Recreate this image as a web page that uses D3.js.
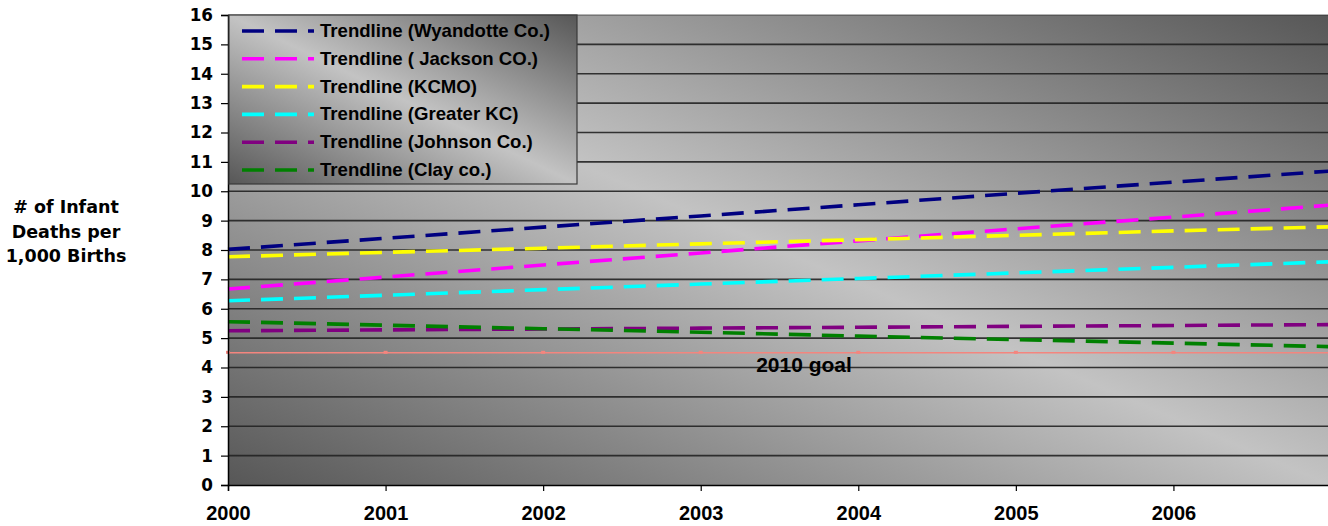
<!DOCTYPE html>
<html>
<head>
<meta charset="utf-8">
<script src="https://cdn.jsdelivr.net/npm/d3@7/dist/d3.min.js"></script>
<style>
  html, body { margin: 0; padding: 0; background: #ffffff; }
  svg { display: block; }
</style>
</head>
<body>
<svg id="chart" width="1328" height="526"></svg>
<script>
// ---- Data ----
const years = [2000, 2001, 2002, 2003, 2004, 2005, 2006, 2007];
const xTickLabels = [2000, 2001, 2002, 2003, 2004, 2005, 2006];
const yTickLabels = [0, 1, 2, 3, 4, 5, 6, 7, 8, 9, 10, 11, 12, 13, 14, 15, 16];

const seriesNames = [
  "Trendline (Wyandotte Co.)",
  "Trendline ( Jackson CO.)",
  "Trendline (KCMO)",
  "Trendline (Greater KC)",
  "Trendline (Johnson Co.)",
  "Trendline (Clay co.)"
];
const seriesColors = ["#000080", "#ff00ff", "#ffff00", "#00ffff", "#800080", "#008000"];

const wyandotte = [8.02, 8.40, 8.78, 9.16, 9.54, 9.93, 10.31, 10.69];
const jackson   = [6.67, 7.08, 7.49, 7.90, 8.31, 8.72, 9.12, 9.53];
const kcmo      = [7.77, 7.92, 8.06, 8.21, 8.35, 8.50, 8.65, 8.79];
const greaterKC = [6.27, 6.46, 6.65, 6.84, 7.03, 7.22, 7.41, 7.60];
const johnson   = [5.25, 5.28, 5.31, 5.34, 5.37, 5.40, 5.43, 5.46];
const clay      = [5.56, 5.44, 5.32, 5.20, 5.07, 4.95, 4.83, 4.71];
const goal2010  = [4.5, 4.5, 4.5, 4.5, 4.5, 4.5, 4.5, 4.5];
const goalLabel = "2010 goal";
const yAxisTitle = ["# of Infant", "Deaths per", "1,000 Births"];

const allSeries = [wyandotte, jackson, kcmo, greaterKC, johnson, clay];

// ---- Layout ----
const svg = d3.select("#chart");
const plot = { left: 228, top: 15, right: 1331, bottom: 485 };

const x = d3.scaleLinear().domain([2000, 2007]).range([plot.left, plot.right]);
const y = d3.scaleLinear().domain([0, 16]).range([plot.bottom, plot.top]);

const defs = svg.append("defs");
function diagGrad(id) {
  const g = defs.append("linearGradient").attr("id", id)
    .attr("x1", 0).attr("y1", 1).attr("x2", 1).attr("y2", 0);
  g.append("stop").attr("offset", "0%").attr("stop-color", "#575757");
  g.append("stop").attr("offset", "50%").attr("stop-color", "#c3c3c3");
  g.append("stop").attr("offset", "100%").attr("stop-color", "#575757");
}
diagGrad("plotGrad");
diagGrad("legGrad");

// plot background
svg.append("rect")
  .attr("x", plot.left).attr("y", plot.top)
  .attr("width", plot.right - plot.left).attr("height", plot.bottom - plot.top)
  .attr("fill", "url(#plotGrad)");

// gridlines
svg.append("g").selectAll("line")
  .data(yTickLabels.filter(d => d > 0))
  .join("line")
  .attr("x1", plot.left).attr("x2", plot.right)
  .attr("y1", d => y(d)).attr("y2", d => y(d))
  .attr("stroke", "#222").attr("stroke-width", 1.7)
  .attr("stroke-opacity", d => d === 16 ? 0.45 : 0.9);

// goal line
const lineGen = d3.line().x((d, i) => x(years[i])).y(d => y(d));
svg.append("path").datum(goal2010)
  .attr("d", lineGen)
  .attr("fill", "none").attr("stroke", "#f4857e").attr("stroke-width", 1.6);
svg.append("g").selectAll("rect")
  .data(goal2010.slice(0, 7))
  .join("rect")
  .attr("x", (d, i) => x(years[i]) - 2).attr("y", d => y(d) - 2)
  .attr("width", 4).attr("height", 3)
  .attr("fill", "#f4857e");

// trendlines
svg.append("g").selectAll("path")
  .data(allSeries)
  .join("path")
  .attr("d", lineGen)
  .attr("fill", "none")
  .attr("stroke", (d, i) => seriesColors[i])
  .attr("stroke-width", 3.6)
  .attr("stroke-dasharray", "22,11");

// goal label
svg.append("text")
  .attr("x", 804).attr("y", 372)
  .attr("text-anchor", "middle")
  .attr("font-family", "Liberation Sans, Arial, sans-serif")
  .attr("font-weight", "bold").attr("font-size", 21)
  .attr("fill", "#000")
  .text(goalLabel);

// axes
const yAxis = d3.axisLeft(y).tickValues(yTickLabels).tickSize(7).tickPadding(8).tickFormat(d3.format("d"));
const gy = svg.append("g").attr("transform", `translate(${plot.left},0)`).call(yAxis);
gy.select(".domain").attr("stroke", "#000").attr("stroke-width", 1.5);
gy.selectAll(".tick line").attr("stroke", "#000").attr("stroke-width", 1.2);
gy.selectAll(".tick text")
  .attr("font-family", "DejaVu Sans, sans-serif")
  .attr("font-weight", "bold").attr("font-size", 16.8).attr("fill", "#000");

const xAxis = d3.axisBottom(x).tickValues(xTickLabels).tickSize(6).tickPadding(15).tickFormat(d3.format("d"));
const gx = svg.append("g").attr("transform", `translate(0,${plot.bottom})`).call(xAxis);
gx.select(".domain").attr("stroke", "#000").attr("stroke-width", 1.5);
gx.selectAll(".tick line").attr("stroke", "#000").attr("stroke-width", 1.2);
gx.selectAll(".tick text")
  .attr("font-family", "Liberation Sans, Arial, sans-serif")
  .attr("font-weight", "bold").attr("font-size", 20).attr("fill", "#000");

// y-axis title
svg.append("g").selectAll("text")
  .data(yAxisTitle)
  .join("text")
  .attr("x", 66).attr("y", (d, i) => 213 + i * 24.6)
  .attr("text-anchor", "middle")
  .attr("font-family", "DejaVu Sans, sans-serif")
  .attr("font-weight", "bold").attr("font-size", 17.5)
  .attr("fill", "#000")
  .text(d => d);

// legend
const leg = svg.append("g");
leg.append("rect")
  .attr("x", 229).attr("y", 15).attr("width", 348).attr("height", 169)
  .attr("fill", "url(#legGrad)")
  .attr("stroke", "#3a3a3a").attr("stroke-width", 1.2);
const rows = leg.selectAll("g.row")
  .data(seriesNames)
  .join("g").attr("class", "row")
  .attr("transform", (d, i) => `translate(0,${31 + i * 27.8})`);
rows.append("line")
  .attr("x1", 242).attr("x2", 314).attr("y1", 0).attr("y2", 0)
  .attr("stroke", (d, i) => seriesColors[i])
  .attr("stroke-width", 3.6)
  .attr("stroke-dasharray", "22,11");
rows.append("text")
  .attr("x", 320).attr("y", 6)
  .attr("font-family", "Liberation Sans, Arial, sans-serif")
  .attr("font-weight", "bold").attr("font-size", 18.6)
  .attr("fill", "#000")
  .text(d => d);
</script>
</body>
</html>
